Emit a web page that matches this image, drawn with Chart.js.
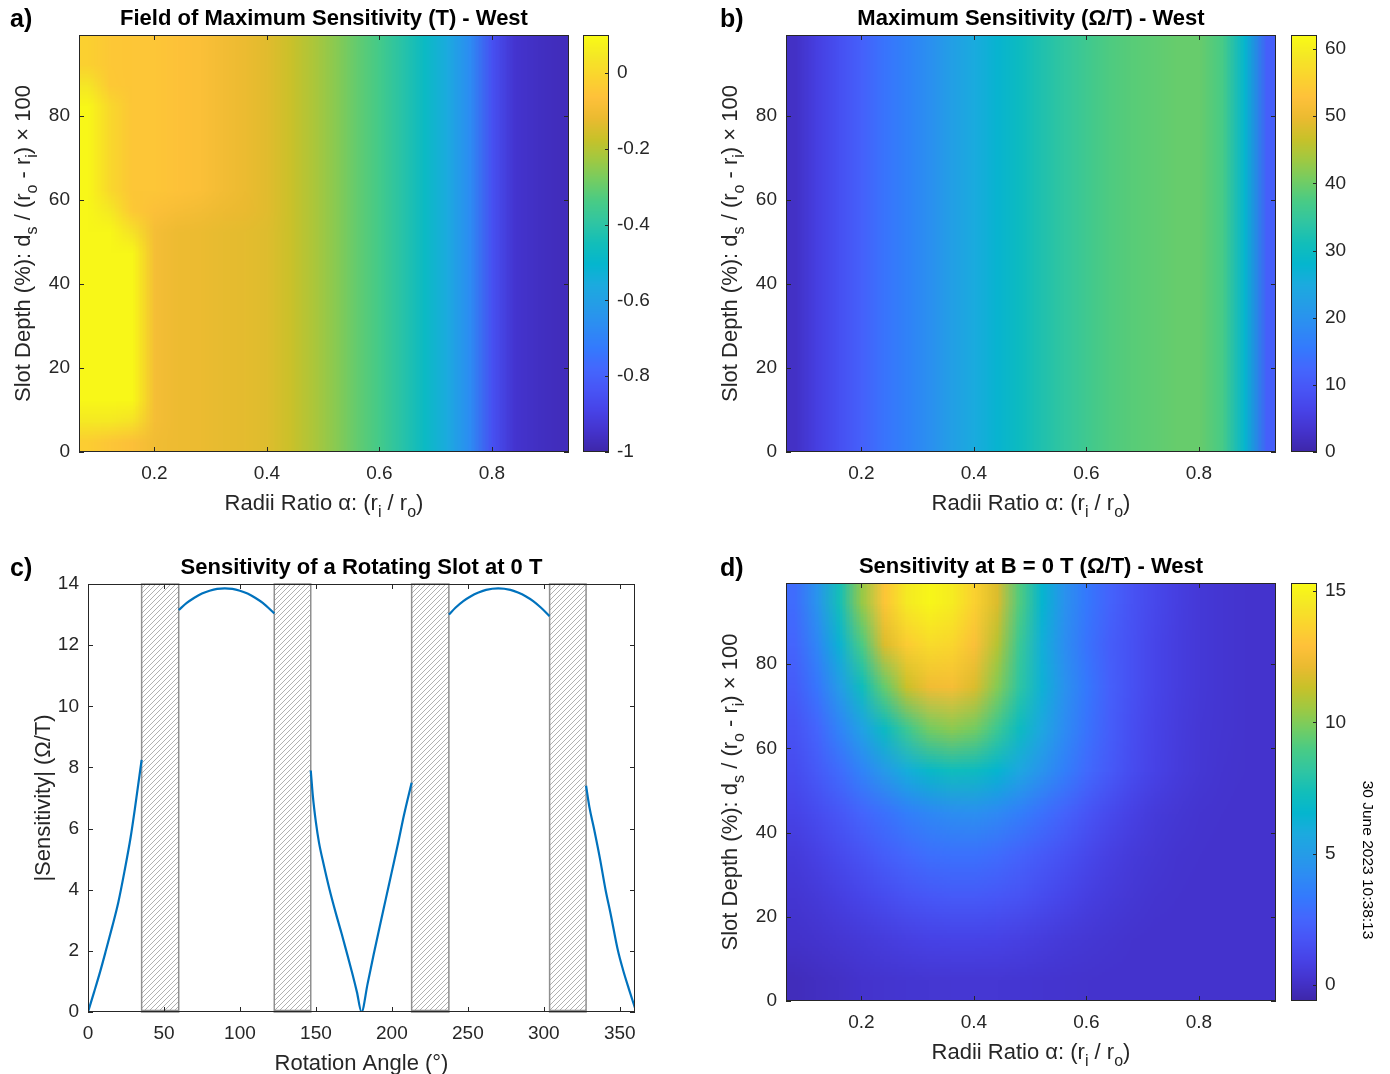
<!DOCTYPE html>
<html>
<head>
<meta charset="utf-8">
<script src="https://cdn.jsdelivr.net/npm/chart.js@4.4.1/dist/chart.umd.min.js"></script>
<style>
  body { margin: 0; background: #fff; width: 1390px; height: 1074px; position: relative; overflow: hidden; }
  canvas { position: absolute; }
</style>
</head>
<body>
<canvas id="chartA" width="578" height="540" style="left:0;top:0"></canvas>
<canvas id="barA" width="100" height="540" style="left:578px;top:0"></canvas>
<canvas id="chartB" width="595" height="540" style="left:690px;top:0"></canvas>
<canvas id="barB" width="105" height="540" style="left:1285px;top:0"></canvas>
<canvas id="chartC" width="690" height="534" style="left:0;top:540px"></canvas>
<canvas id="chartD" width="595" height="534" style="left:690px;top:540px"></canvas>
<canvas id="barD" width="105" height="534" style="left:1285px;top:540px"></canvas>
<script>
// ---------- data ----------
// grid nodes for the heatmaps
const radiiRatio = [0.08, 0.12, 0.16, 0.20, 0.24, 0.28, 0.32, 0.36, 0.40, 0.44, 0.48,
                    0.52, 0.56, 0.60, 0.64, 0.68, 0.72, 0.76, 0.80, 0.84, 0.88, 0.92];
const slotDepthA = [2.5, 7.5, 12.5, 17.5, 22.5, 27.5, 32.5, 37.5, 42.5, 47.5,
                    52.5, 57.5, 62.5, 67.5, 72.5, 77.5, 82.5, 87.5, 92.5, 97.5];
const slotDepthB = [25, 75];
const slotDepthD = [5, 15, 25, 35, 45, 55, 65, 75, 85, 95];

// a) field of maximum sensitivity (T), rows bottom -> top
const fieldMaxSens = [
  [-0.03,-0.05,-0.07,-0.1,-0.11,-0.115,-0.125,-0.13,-0.14,-0.17,-0.21,-0.255,-0.305,-0.35,-0.41,-0.48,-0.56,-0.67,-0.85,-0.94,-0.96,-0.97],
  [0.05,0.05,0.03,-0.09,-0.11,-0.115,-0.125,-0.13,-0.14,-0.17,-0.21,-0.255,-0.305,-0.35,-0.41,-0.48,-0.56,-0.67,-0.85,-0.94,-0.96,-0.97],
  [0.09,0.09,0.09,-0.09,-0.11,-0.115,-0.125,-0.13,-0.14,-0.17,-0.21,-0.255,-0.305,-0.35,-0.41,-0.48,-0.56,-0.67,-0.85,-0.94,-0.96,-0.97],
  [0.09,0.09,0.09,-0.09,-0.11,-0.115,-0.125,-0.13,-0.14,-0.17,-0.21,-0.255,-0.305,-0.35,-0.41,-0.48,-0.56,-0.67,-0.85,-0.94,-0.96,-0.97],
  [0.09,0.09,0.09,-0.09,-0.11,-0.115,-0.125,-0.13,-0.14,-0.17,-0.21,-0.255,-0.305,-0.35,-0.41,-0.48,-0.56,-0.67,-0.85,-0.94,-0.96,-0.97],
  [0.09,0.09,0.09,-0.09,-0.11,-0.115,-0.125,-0.13,-0.14,-0.17,-0.21,-0.255,-0.305,-0.35,-0.41,-0.48,-0.56,-0.67,-0.85,-0.94,-0.96,-0.97],
  [0.09,0.09,0.09,-0.09,-0.11,-0.115,-0.125,-0.13,-0.14,-0.17,-0.21,-0.255,-0.305,-0.35,-0.41,-0.48,-0.56,-0.67,-0.85,-0.94,-0.96,-0.97],
  [0.09,0.09,0.09,-0.09,-0.11,-0.115,-0.125,-0.13,-0.14,-0.17,-0.21,-0.255,-0.305,-0.35,-0.41,-0.48,-0.56,-0.67,-0.85,-0.94,-0.96,-0.97],
  [0.09,0.09,0.09,-0.09,-0.11,-0.115,-0.125,-0.13,-0.14,-0.17,-0.21,-0.255,-0.305,-0.35,-0.41,-0.48,-0.56,-0.67,-0.85,-0.94,-0.96,-0.97],
  [0.09,0.09,0.09,-0.09,-0.11,-0.115,-0.125,-0.13,-0.14,-0.17,-0.21,-0.255,-0.305,-0.35,-0.41,-0.48,-0.56,-0.67,-0.85,-0.94,-0.96,-0.97],
  [0.09,0.09,0.03,-0.09,-0.11,-0.115,-0.125,-0.13,-0.14,-0.17,-0.21,-0.255,-0.305,-0.35,-0.41,-0.48,-0.56,-0.67,-0.85,-0.94,-0.96,-0.97],
  [0.09,0.05,-0.04,-0.07,-0.085,-0.095,-0.11,-0.12,-0.135,-0.17,-0.21,-0.255,-0.305,-0.35,-0.41,-0.48,-0.56,-0.67,-0.85,-0.94,-0.96,-0.97],
  [0.09,0.0,-0.05,-0.05,-0.06,-0.075,-0.095,-0.115,-0.135,-0.17,-0.21,-0.255,-0.305,-0.35,-0.41,-0.48,-0.56,-0.67,-0.85,-0.94,-0.96,-0.97],
  [0.09,0.0,-0.05,-0.05,-0.06,-0.075,-0.095,-0.115,-0.135,-0.17,-0.21,-0.255,-0.305,-0.35,-0.41,-0.48,-0.56,-0.67,-0.85,-0.94,-0.96,-0.97],
  [0.09,0.0,-0.05,-0.05,-0.06,-0.075,-0.095,-0.115,-0.135,-0.17,-0.21,-0.255,-0.305,-0.35,-0.41,-0.48,-0.56,-0.67,-0.85,-0.94,-0.96,-0.97],
  [0.09,0.0,-0.05,-0.05,-0.06,-0.075,-0.095,-0.115,-0.135,-0.17,-0.21,-0.255,-0.305,-0.35,-0.41,-0.48,-0.56,-0.67,-0.85,-0.94,-0.96,-0.97],
  [0.09,0.0,-0.05,-0.05,-0.06,-0.075,-0.095,-0.115,-0.135,-0.17,-0.21,-0.255,-0.305,-0.35,-0.41,-0.48,-0.56,-0.67,-0.85,-0.94,-0.96,-0.97],
  [0.04,-0.04,-0.05,-0.05,-0.06,-0.075,-0.095,-0.115,-0.135,-0.17,-0.21,-0.255,-0.305,-0.35,-0.41,-0.48,-0.56,-0.67,-0.85,-0.94,-0.96,-0.97],
  [-0.02,-0.045,-0.05,-0.05,-0.06,-0.075,-0.095,-0.115,-0.135,-0.17,-0.21,-0.255,-0.305,-0.35,-0.41,-0.48,-0.56,-0.67,-0.85,-0.94,-0.96,-0.97],
  [-0.02,-0.045,-0.05,-0.05,-0.06,-0.075,-0.095,-0.115,-0.135,-0.17,-0.21,-0.255,-0.305,-0.35,-0.41,-0.48,-0.56,-0.67,-0.85,-0.94,-0.96,-0.97]
];

// b) maximum sensitivity (ohm/T), no variation with depth
const maxSens = [
  [2.5,5.5,8.5,11.5,14.5,17,19.5,22.5,25,27.5,30,32.5,34.5,36.3,37.7,38.5,39,39.6,39.6,37.3,28,11],
  [2.5,5.5,8.5,11.5,14.5,17,19.5,22.5,25,27.5,30,32.5,34.5,36.3,37.7,38.5,39,39.6,39.6,37.3,28,11]
];

// d) sensitivity at B = 0 T (ohm/T), rows bottom -> top
const sensAtZero = [
  [-0.2,-0.05,0.05,0.2,0.28,0.33,0.37,0.4,0.4,0.38,0.35,0.3,0.26,0.22,0.2,0.2,0.2,0.2,0.2,0.2,0.2,0.2],
  [0.15,0.25,0.4,0.55,0.7,0.85,0.95,1.0,1.0,0.95,0.85,0.7,0.55,0.42,0.32,0.25,0.2,0.2,0.2,0.2,0.2,0.2],
  [0.35,0.55,0.8,1.1,1.4,1.7,1.9,2.0,2.0,1.9,1.7,1.4,1.1,0.8,0.6,0.42,0.3,0.25,0.2,0.2,0.2,0.2],
  [0.6,0.9,1.3,1.7,2.2,2.6,2.9,3.0,3.0,2.8,2.4,2.0,1.6,1.2,0.85,0.6,0.42,0.3,0.25,0.2,0.2,0.2],
  [1.0,1.4,1.9,2.5,3.0,3.6,4.0,4.3,4.4,4.1,3.6,3.0,2.4,1.8,1.3,0.9,0.6,0.42,0.3,0.25,0.2,0.2],
  [1.4,2.0,2.8,3.8,4.9,6.0,6.8,7.2,7.1,6.5,5.6,4.6,3.6,2.7,2.0,1.4,0.95,0.65,0.42,0.3,0.22,0.2],
  [1.7,2.5,3.8,5.3,7.0,8.6,9.8,10.2,9.8,8.6,7.1,5.6,4.2,3.1,2.2,1.5,1.0,0.7,0.45,0.32,0.25,0.2],
  [2.1,3.2,5.0,7.2,9.5,11.4,12.4,12.6,11.8,10.1,8.1,6.2,4.5,3.3,2.3,1.6,1.1,0.75,0.5,0.35,0.25,0.2],
  [2.5,3.9,6.3,9.0,11.8,13.4,14.0,13.8,12.8,11.0,8.5,6.1,4.3,3.1,2.2,1.6,1.1,0.75,0.5,0.35,0.25,0.2],
  [2.8,4.6,7.4,10.4,13.1,14.6,15.1,14.7,13.6,11.8,9.1,6.5,4.5,3.3,2.4,1.7,1.2,0.8,0.5,0.35,0.25,0.2]
];

// c) |sensitivity| of a rotating slot (null = inside a blocked range)
const angleDeg = [0,4,8,12,16,20,24,28,31,35.3, 47,
  59.7,65,70,75,80,85,90,95,100,105,110,115,122.6, 134,
  146.6,148,150,152,155,159,163,167,170,174,177,180,184,188,192,196,200,204,208,213, 225,
  237.5,242,247,252,257,262,270,278,283,288,293,298,303.8, 316,
  327.8,330,333,337,340.6,344,348.8,352,356,360];
const sensitivity = [0,0.65,1.32,2.05,2.8,3.6,4.6,5.7,6.7,8.25, null,
  13.15,13.38,13.55,13.69,13.78,13.84,13.86,13.84,13.78,13.69,13.55,13.38,13.04, null,
  7.9,7.05,6.2,5.55,4.85,4.0,3.25,2.55,2.0,1.25,0.65,0,0.92,1.88,2.8,3.7,4.6,5.5,6.45,7.5, null,
  13.0,13.23,13.44,13.6,13.72,13.81,13.86,13.81,13.72,13.6,13.44,13.23,12.95, null,
  7.4,6.7,6.0,5.0,4.0,3.2,2.0,1.4,0.75,0.13];
// hatched (blocked) angle ranges
const slotFrom = [35.3, 122.6, 213, 303.8];
const slotTo = [59.7, 146.6, 237.5, 327.8];
const slotLow = 0, slotHigh = 14;

// axis ranges and ticks
const ratioRange = [0.066, 0.937];
const depthRange = [0, 99.3];
const ratioTicks = [0.2, 0.4, 0.6, 0.8];
const depthTicks = [0, 20, 40, 60, 80];
const angleTicks = [0, 50, 100, 150, 200, 250, 300, 350];
const sensTicks = [0, 2, 4, 6, 8, 10, 12, 14];
const barRangeA = [-1, 0.1], barTicksA = [-1, -0.8, -0.6, -0.4, -0.2, 0];
const barRangeB = [0, 62.1], barTicksB = [0, 10, 20, 30, 40, 50, 60];
const barRangeD = [-0.6, 15.3], barTicksD = [0, 5, 10, 15];

// ---------- styling ----------
const FONT = "'Liberation Sans', Arial, Helvetica, sans-serif";
const INK = '#262626';
Chart.defaults.font.family = FONT;
Chart.defaults.color = INK;

// parula colormap stops (every 0.05)
const PARULA = [
  [0.2422,0.1504,0.6603],[0.2657,0.2001,0.8016],[0.2791,0.2625,0.9065],[0.2806,0.3327,0.9645],
  [0.2647,0.4030,0.9935],[0.2021,0.4788,0.9911],[0.1766,0.5478,0.9538],[0.1457,0.6101,0.9073],
  [0.1085,0.6669,0.8734],[0.0175,0.7126,0.8079],[0.0704,0.7457,0.7258],[0.1866,0.7727,0.6360],
  [0.2809,0.7964,0.5266],[0.4463,0.8024,0.3904],[0.6229,0.7869,0.2572],[0.7829,0.7579,0.1608],
  [0.9184,0.7308,0.1890],[0.9971,0.7555,0.2277],[0.9821,0.8311,0.1802],[0.9595,0.9084,0.1450],
  [0.9769,0.9839,0.0805]
];
function parula(t) {
  t = Math.max(0, Math.min(1, t)) * (PARULA.length - 1);
  const i = Math.min(PARULA.length - 2, Math.floor(t)), f = t - i;
  return PARULA[i].map((c, k) => Math.round(255 * (c + (PARULA[i + 1][k] - c) * f)));
}

// draw text with subscripts: parts are strings, or [string] for a subscript
function drawRich(ctx, parts, x, y, size) {
  const main = size + 'px ' + FONT, sub = Math.round(size * 0.72) + 'px ' + FONT;
  let w = 0;
  parts.forEach(p => { ctx.font = Array.isArray(p) ? sub : main; w += ctx.measureText(Array.isArray(p) ? p[0] : p).width; });
  let cx = x - w / 2;
  ctx.textAlign = 'left';
  ctx.textBaseline = 'alphabetic';
  parts.forEach(p => {
    const isSub = Array.isArray(p), s = isSub ? p[0] : p;
    ctx.font = isSub ? sub : main;
    ctx.fillText(s, cx, y + (isSub ? size * 0.3 : 0));
    cx += ctx.measureText(s).width;
  });
}

// panel letter, title and axis titles
function labelsPlugin(cfg) {
  return {
    id: 'labels',
    afterDraw(chart) {
      const { ctx, chartArea: a } = chart;
      ctx.save();
      ctx.fillStyle = '#000';
      ctx.textBaseline = 'alphabetic';
      ctx.textAlign = 'left';
      ctx.font = 'bold 25px ' + FONT;
      ctx.fillText(cfg.letter, cfg.letterX, cfg.letterY);
      ctx.font = 'bold 22px ' + FONT;
      ctx.textAlign = 'center';
      ctx.fillText(cfg.title, (a.left + a.right) / 2, a.top - 10);
      ctx.fillStyle = INK;
      drawRich(ctx, cfg.xTitle, (a.left + a.right) / 2, a.bottom + 58, 22);
      ctx.translate(a.left - cfg.yGap, (a.top + a.bottom) / 2);
      ctx.rotate(-Math.PI / 2);
      drawRich(ctx, cfg.yTitle, 0, 0, 22);
      ctx.restore();
    }
  };
}

// MATLAB-like box with inward ticks on all four sides
const framePlugin = {
  id: 'frame',
  afterDatasetsDraw(chart) {
    const { ctx, chartArea: a, scales: { x, y } } = chart;
    const len = 5;
    ctx.save();
    ctx.strokeStyle = INK;
    ctx.lineWidth = 1;
    ctx.beginPath();
    x.ticks.forEach(t => {
      const px = Math.round(x.getPixelForValue(t.value)) + 0.5;
      ctx.moveTo(px, a.bottom); ctx.lineTo(px, a.bottom - len);
      ctx.moveTo(px, a.top); ctx.lineTo(px, a.top + len);
    });
    y.ticks.forEach(t => {
      const py = Math.round(y.getPixelForValue(t.value)) + 0.5;
      ctx.moveTo(a.left, py); ctx.lineTo(a.left + len, py);
      ctx.moveTo(a.right, py); ctx.lineTo(a.right - len, py);
    });
    ctx.stroke();
    ctx.strokeRect(Math.round(a.left) + 0.5, Math.round(a.top) + 0.5, Math.round(a.width) - 1, Math.round(a.height) - 1);
    ctx.restore();
  }
};

// smooth heatmap: one pixel per grid node, scaled up by the browser
function heatmapPlugin(xs, ys, grid, range) {
  return {
    id: 'heatmap',
    beforeDatasetsDraw(chart) {
      const { ctx, chartArea: a, scales: { x, y } } = chart;
      const nx = xs.length, ny = ys.length;
      const off = document.createElement('canvas');
      off.width = nx; off.height = ny;
      const octx = off.getContext('2d');
      const img = octx.createImageData(nx, ny);
      for (let j = 0; j < ny; j++) {
        for (let i = 0; i < nx; i++) {
          const c = parula((grid[j][i] - range[0]) / (range[1] - range[0]));
          const k = ((ny - 1 - j) * nx + i) * 4;
          img.data[k] = c[0]; img.data[k + 1] = c[1]; img.data[k + 2] = c[2]; img.data[k + 3] = 255;
        }
      }
      octx.putImageData(img, 0, 0);
      const dx = xs[1] - xs[0], dy = ys[1] - ys[0];
      const left = x.getPixelForValue(xs[0] - dx / 2), right = x.getPixelForValue(xs[nx - 1] + dx / 2);
      const top = y.getPixelForValue(ys[ny - 1] + dy / 2), bottom = y.getPixelForValue(ys[0] - dy / 2);
      ctx.save();
      ctx.beginPath();
      ctx.rect(a.left, a.top, a.width, a.height);
      ctx.clip();
      ctx.imageSmoothingEnabled = true;
      ctx.drawImage(off, left, top, right - left, bottom - top);
      ctx.restore();
    }
  };
}

// colorbar fill + box + inward ticks on the right edge
const colorbarPlugin = {
  id: 'colorbar',
  beforeDatasetsDraw(chart) {
    const { ctx, chartArea: a, scales: { y } } = chart;
    for (let py = Math.floor(a.top); py < a.bottom; py++) {
      const v = y.getValueForPixel(py + 0.5);
      const c = parula((v - y.min) / (y.max - y.min));
      ctx.fillStyle = 'rgb(' + c.join(',') + ')';
      ctx.fillRect(a.left, py, a.width, 1);
    }
  },
  afterDatasetsDraw(chart) {
    const { ctx, chartArea: a, scales: { y } } = chart;
    ctx.save();
    ctx.strokeStyle = INK;
    ctx.lineWidth = 1;
    ctx.beginPath();
    y.ticks.forEach(t => {
      const py = Math.round(y.getPixelForValue(t.value)) + 0.5;
      ctx.moveTo(a.right, py); ctx.lineTo(a.right - 4, py);
    });
    ctx.stroke();
    ctx.strokeRect(Math.round(a.left) + 0.5, Math.round(a.top) + 0.5, Math.round(a.width) - 1, Math.round(a.height) - 1);
    ctx.restore();
  }
};

function axis(range, ticks, pad, fit) {
  return {
    type: 'linear',
    min: range[0],
    max: range[1],
    afterBuildTicks: s => { s.ticks = ticks.map(v => ({ value: v })); },
    afterFit: fit,
    grid: { display: false, drawTicks: false },
    border: { display: false },
    ticks: { autoSkip: false, maxRotation: 0, padding: pad, color: INK, font: { size: 19 }, callback: v => String(v) }
  };
}

const baseOptions = {
  responsive: false,
  animation: false,
  events: [],
  plugins: { legend: { display: false }, tooltip: { enabled: false } }
};

const ratioTitle = ['Radii Ratio α: (r', ['i'], ' / r', ['o'], ')'];
const depthTitle = ['Slot Depth (%): d', ['s'], ' / (r', ['o'], ' - r', ['i'], ') × 100'];

function heatmapChart(id, padding, yWidth, xHeight, grid, ys, range, text) {
  return new Chart(document.getElementById(id), {
    type: 'scatter',
    data: { datasets: [] },
    options: Object.assign({}, baseOptions, {
      layout: { padding },
      scales: {
        x: axis(ratioRange, ratioTicks, 10, s => { s.height = xHeight; }),
        y: axis(depthRange, depthTicks, 9, s => { s.width = yWidth; })
      }
    }),
    plugins: [heatmapPlugin(radiiRatio, ys, grid, range), framePlugin, labelsPlugin(text)]
  });
}

function colorbarChart(id, padding, range, ticks, extra) {
  return new Chart(document.getElementById(id), {
    type: 'scatter',
    data: { datasets: [] },
    options: Object.assign({}, baseOptions, {
      layout: { padding },
      scales: {
        x: { display: false, min: 0, max: 1 },
        y: Object.assign(axis(range, ticks, 8, s => { s.width = 50; }), { position: 'right' })
      }
    }),
    plugins: [colorbarPlugin].concat(extra || [])
  });
}

// ---------- a) ----------
heatmapChart('chartA', { left: 0, top: 35, right: 9, bottom: 0 }, 79, 88,
  fieldMaxSens, slotDepthA, barRangeA,
  { letter: 'a)', letterX: 10, letterY: 27, title: 'Field of Maximum Sensitivity (T) - West',
    xTitle: ratioTitle, yTitle: depthTitle, yGap: 49 });
colorbarChart('barA', { left: 5, top: 35, right: 19, bottom: 88 }, barRangeA, barTicksA);

// ---------- b) ----------
heatmapChart('chartB', { left: 0, top: 35, right: 9, bottom: 0 }, 96, 88,
  maxSens, slotDepthB, barRangeB,
  { letter: 'b)', letterX: 30, letterY: 27, title: 'Maximum Sensitivity (Ω/T) - West',
    xTitle: ratioTitle, yTitle: depthTitle, yGap: 49 });
colorbarChart('barB', { left: 6, top: 35, right: 23, bottom: 88 }, barRangeB, barTicksB);

// ---------- c) ----------
const hatchPlugin = {
  id: 'hatch',
  beforeDatasetsDraw(chart) {
    const { ctx, scales: { x, y } } = chart;
    const tile = document.createElement('canvas');
    tile.width = 5; tile.height = 5;
    const g = tile.getContext('2d');
    g.fillStyle = '#fff';
    g.fillRect(0, 0, 5, 5);
    g.strokeStyle = '#a8a8a8';
    g.lineWidth = 0.9;
    g.beginPath();
    g.moveTo(-1, 6); g.lineTo(6, -1);
    g.moveTo(-1, 1); g.lineTo(1, -1);
    g.moveTo(4, 6); g.lineTo(6, 4);
    g.stroke();
    const pattern = ctx.createPattern(tile, 'repeat');
    ctx.save();
    slotFrom.forEach((from, i) => {
      const x0 = x.getPixelForValue(from), x1 = x.getPixelForValue(slotTo[i]);
      const y0 = y.getPixelForValue(slotHigh), y1 = y.getPixelForValue(slotLow);
      ctx.fillStyle = pattern;
      ctx.fillRect(x0, y0, x1 - x0, y1 - y0);
      ctx.strokeStyle = '#8f8f8f';
      ctx.lineWidth = 1.5;
      ctx.strokeRect(x0, y0, x1 - x0, y1 - y0);
      ctx.beginPath();
      ctx.moveTo(x0, y1 - 1.5); ctx.lineTo(x1, y1 - 1.5);
      ctx.stroke();
    });
    ctx.restore();
  }
};

new Chart(document.getElementById('chartC'), {
  type: 'scatter',
  data: {
    datasets: [{
      data: angleDeg.map((a, i) => ({ x: a, y: sensitivity[i] })),
      showLine: true,
      spanGaps: false,
      borderColor: '#0072BD',
      borderWidth: 2.2,
      pointRadius: 0,
      cubicInterpolationMode: 'monotone'
    }]
  },
  options: Object.assign({}, baseOptions, {
    layout: { padding: { left: 0, top: 44, right: 55, bottom: 0 } },
    scales: {
      x: axis([0, 360], angleTicks, 10, s => { s.height = 62; }),
      y: axis([0, 14], sensTicks, 9, s => { s.width = 88; })
    }
  }),
  plugins: [hatchPlugin, framePlugin, labelsPlugin({
    letter: 'c)', letterX: 10, letterY: 36, title: 'Sensitivity of a Rotating Slot at 0 T',
    xTitle: ['Rotation Angle (°)'], yTitle: ['|Sensitivity| (Ω/T)'], yGap: 38 })]
});

// ---------- d) ----------
heatmapChart('chartD', { left: 0, top: 43, right: 9, bottom: 0 }, 96, 73,
  sensAtZero, slotDepthD, barRangeD,
  { letter: 'd)', letterX: 30, letterY: 36, title: 'Sensitivity at B = 0 T (Ω/T) - West',
    xTitle: ratioTitle, yTitle: depthTitle, yGap: 49 });

const stampPlugin = {
  id: 'stamp',
  afterDraw(chart) {
    const ctx = chart.ctx;
    ctx.save();
    ctx.translate(82, 320);
    ctx.rotate(Math.PI / 2);
    ctx.fillStyle = '#000';
    ctx.font = '15.5px ' + FONT;
    ctx.textAlign = 'center';
    ctx.textBaseline = 'middle';
    ctx.fillText('30 June 2023 10:38:13', 0, 0);
    ctx.restore();
  }
};
colorbarChart('barD', { left: 6, top: 43, right: 23, bottom: 73 }, barRangeD, barTicksD, [stampPlugin]);
</script>
</body>
</html>
